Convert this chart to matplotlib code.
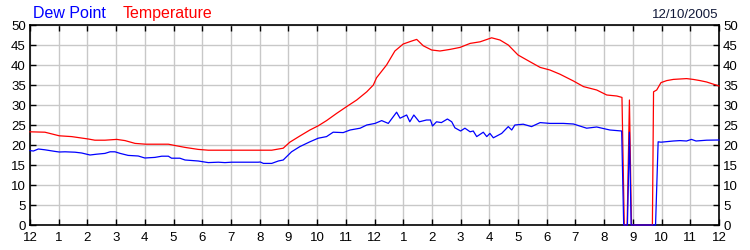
import matplotlib
matplotlib.use("Agg")
import matplotlib.pyplot as plt

plt.rcParams['font.family'] = ['Liberation Sans', 'DejaVu Sans']

# readings, hours since midnight
temp_hours = [0, 0.52, 1.02, 1.45, 2.03, 2.26, 2.61, 3.02, 3.31, 3.66, 4.03, 4.82,
              5.03, 5.40, 5.86, 6.21, 7.02, 8.02, 8.42, 8.82, 9.05, 9.4, 9.75, 10.04,
              10.33, 10.68, 11.03, 11.38, 11.73, 11.96, 12.07, 12.42, 12.71, 13.0, 13.3,
              13.47, 13.7, 13.99, 14.28, 14.63, 14.98, 15.33, 15.68, 16.08, 16.37, 16.66,
              17.0, 17.42, 17.77, 18.11, 18.46, 18.93, 19.28, 19.74, 20.09, 20.44, 20.62,
              20.70, 20.80, 20.88, 20.95, 21.68, 21.72, 21.83, 21.98, 22.18, 22.41, 22.87,
              23.1, 23.34, 23.57, 24.0]
temp = [23.3, 23.2, 22.3, 22.1, 21.5, 21.2, 21.2, 21.4, 21.1, 20.4, 20.2, 20.2,
        19.9, 19.4, 18.9, 18.7, 18.7, 18.7, 18.7, 19.2, 20.7, 22.25, 23.75, 24.8,
        26.1, 27.9, 29.6, 31.25, 33.3, 35.0, 36.8, 40.0, 43.5, 45.25, 46.0,
        46.4, 44.8, 43.75, 43.5, 43.9, 44.4, 45.4, 45.8, 46.8, 46.25, 45.0,
        42.5, 40.8, 39.4, 38.75, 37.7, 36.0, 34.6, 33.75, 32.5, 32.25, 31.9,
        0, 0, 31.25, 0, 0, 33.3, 33.75, 35.6, 36.1, 36.4, 36.6,
        36.4, 36.1, 35.75, 34.75]

dew_hours = [0, 0.12, 0.29, 0.52, 0.87, 1.02, 1.22, 1.57, 1.80, 2.09, 2.32, 2.61,
             2.79, 2.96, 3.14, 3.42, 3.77, 4.0, 4.35, 4.59, 4.82, 4.93, 5.22, 5.40,
             5.86, 6.21, 6.56, 6.79, 7.02, 7.95, 8.02, 8.13, 8.42, 8.65, 8.82, 9.11,
             9.4, 9.75, 10.04, 10.33, 10.56, 10.91, 11.15, 11.5, 11.73, 12.02, 12.25,
             12.48, 12.77, 12.89, 13.12, 13.23, 13.37, 13.56, 13.81, 13.95, 14.02, 14.16,
             14.33, 14.54, 14.69, 14.8, 15.0, 15.15, 15.33, 15.44, 15.56, 15.79, 15.91,
             16.02, 16.14, 16.43, 16.66, 16.78, 16.89, 17.18, 17.47, 17.77, 18.11, 18.58,
             18.93, 19.39, 19.74, 20.2, 20.61, 20.68, 20.81, 20.88, 20.94, 21.79, 21.88,
             21.98, 22.41, 22.64, 22.87, 23.04, 23.2, 23.57, 24.0]
dew = [18.6, 18.5, 19.0, 18.8, 18.4, 18.25, 18.3, 18.2, 18.0, 17.5, 17.7, 17.9,
       18.3, 18.3, 17.9, 17.4, 17.25, 16.75, 16.9, 17.2, 17.2, 16.7, 16.7, 16.25,
       16.0, 15.6, 15.7, 15.6, 15.7, 15.7, 15.75, 15.4, 15.4, 16.0, 16.25, 18.3,
       19.6, 20.8, 21.7, 22.1, 23.2, 23.1, 23.75, 24.2, 25.0, 25.4, 26.1,
       25.4, 28.2, 26.7, 27.5, 25.8, 27.5, 25.8, 26.25, 26.25, 24.75, 25.8,
       25.6, 26.5, 25.8, 24.3, 23.5, 24.2, 23.3, 23.5, 22.1, 23.2, 22.1,
       22.9, 21.8, 22.9, 24.6, 23.75, 25.0, 25.2, 24.6, 25.6, 25.4, 25.4,
       25.25, 24.2, 24.5, 23.75, 23.5, 0, 0, 23.2, 0, 0, 20.8,
       20.7, 21.0, 21.1, 21.0, 21.4, 21.0, 21.2, 21.25]

hour_labels = ['12'] + [str(i) for i in range(1, 12)] + ['12'] + [str(i) for i in range(1, 12)] + ['12']
date_text = "12/10/2005"

fig = plt.figure(figsize=(7.5, 2.5), dpi=100)
ax = fig.add_axes([30/750, 25/250, 689/750, 200/250])

ax.plot(temp_hours, temp, color='#ff0000', lw=0.9, zorder=3, clip_on=False)
ax.plot(dew_hours, dew, color='#0000ff', lw=0.9, zorder=4, clip_on=False)

ax.set_xlim(0, 24)
ax.set_ylim(0, 50)
ax.set_xticks(range(25))
ax.set_xticklabels(hour_labels)
ax.set_yticks(range(0, 51, 5))
ax.grid(True, color='#c8c8c8', lw=1.0, zorder=0)
ax.set_axisbelow(True)
ax.tick_params(direction='in', length=4, width=1, top=True, right=True,
               labelright=True, labelsize=9.5, colors='black')
ax.tick_params(axis='x', pad=5)
ax.tick_params(axis='y', pad=3)
for s in ax.spines.values():
    s.set_linewidth(1.2)

fig.text(33/750, 1 - 18/250, "Dew Point", color='#0000ff', fontsize=11.5)
fig.text(123/750, 1 - 18/250, "Temperature", color='#ff0000', fontsize=11.5)
fig.text(718/750, 1 - 18/250, date_text, color='#101838', fontsize=9.5, ha='right')

fig.savefig("out.png", dpi=100)
